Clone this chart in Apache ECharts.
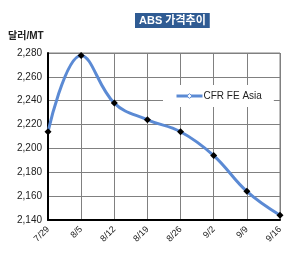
<!DOCTYPE html>
<html>
<head>
<meta charset="utf-8">
<script src="https://cdn.jsdelivr.net/npm/echarts@6/dist/echarts.min.js"></script>
<style>
  html, body { margin: 0; padding: 0; background: #fff; }
  #chart { width: 299px; height: 271px; }
</style>
</head>
<body>
<div id="chart"></div>
<script>
// 데이터
const categories = ['7/29', '8/5', '8/12', '8/19', '8/26', '9/2', '9/9', '9/16']
const cfrFeAsia = [2214, 2278, 2238, 2224, 2214, 2194, 2164, 2144]
const seriesName = 'CFR FE Asia'

const lineColor = '#5b8ad4'
const fontFamily = 'Arial, "Liberation Sans", "Noto Sans CJK KR", sans-serif'

const chart = echarts.init(document.getElementById('chart'))

chart.setOption({
  animation: false,
  title: {
    text: 'ABS 가격추이',
    left: 135,
    top: 13,
    padding: [2, 4],
    backgroundColor: '#2f5b93',
    textStyle: { color: '#fff', fontSize: 11, fontWeight: 'bold', fontFamily }
  },
  graphic: [
    {
      type: 'text',
      left: 8,
      top: 31,
      style: { text: '달러/MT', fontSize: 10, fontWeight: 'bold', fill: '#222', fontFamily }
    }
  ],
  legend: {
    data: [seriesName],
    left: 163,
    top: 85,
    backgroundColor: '#fff',
    padding: [6, 12, 6, 12],
    itemWidth: 26,
    itemHeight: 6,
    itemGap: 2,
    itemStyle: { color: '#fff', borderColor: lineColor, borderWidth: 1 },
    lineStyle: { color: lineColor, width: 3 },
    textStyle: { fontSize: 10, color: '#222', fontFamily, padding: [0, 0, 0, -4] }
  },
  grid: {
    left: 48, right: 19, top: 53, bottom: 51,
    show: true, borderColor: '#808080', borderWidth: 1
  },
  xAxis: {
    type: 'category',
    data: categories,
    boundaryGap: false,
    axisLine: { lineStyle: { color: '#000', width: 2 } },
    axisTick: { show: false },
    axisLabel: { rotate: 45, fontSize: 9, color: '#222', margin: 8, fontFamily },
    splitLine: { show: true, lineStyle: { color: '#808080', width: 1 } }
  },
  yAxis: {
    type: 'value',
    min: 2140,
    max: 2280,
    interval: 20,
    axisLine: { show: true, lineStyle: { color: '#000', width: 2 } },
    axisTick: { show: false },
    axisLabel: {
      fontSize: 10,
      color: '#222',
      margin: 6,
      fontFamily,
      formatter: (v) => v.toLocaleString('en-US')
    },
    splitLine: { show: true, lineStyle: { color: '#808080', width: 1 } }
  },
  series: [
    {
      name: seriesName,
      type: 'line',
      data: cfrFeAsia,
      smooth: 0.4,
      symbol: 'diamond',
      symbolSize: 7,
      itemStyle: { color: '#000' },
      lineStyle: { color: lineColor, width: 3 },
      z: 3
    }
  ]
})
</script>
</body>
</html>
